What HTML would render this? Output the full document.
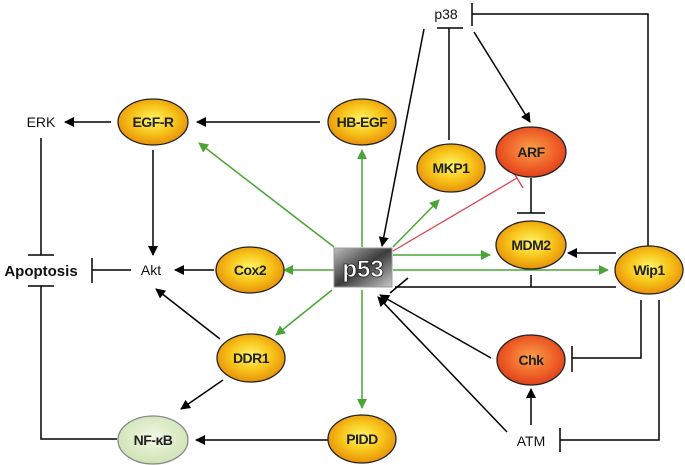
<!DOCTYPE html>
<html><head><meta charset="utf-8"><style>html,body{margin:0;padding:0;background:#fff}svg{display:block}</style></head><body>
<svg width="685" height="465" viewBox="0 0 685 465" xmlns="http://www.w3.org/2000/svg" font-family="Liberation Sans, sans-serif">
<defs>
<radialGradient id="yo" cx="50%" cy="45%" r="55%"><stop offset="0" stop-color="#fff66a"/><stop offset="0.55" stop-color="#f7c51a"/><stop offset="1" stop-color="#e8900a"/></radialGradient>
<radialGradient id="ro" cx="50%" cy="45%" r="55%"><stop offset="0" stop-color="#f9a24a"/><stop offset="0.6" stop-color="#f0652a"/><stop offset="1" stop-color="#e0401c"/></radialGradient>
<radialGradient id="gr" cx="50%" cy="45%" r="55%"><stop offset="0" stop-color="#f2f8e6"/><stop offset="1" stop-color="#cfe3b4"/></radialGradient>
<linearGradient id="bx" x1="0" y1="0" x2="1" y2="1"><stop offset="0" stop-color="#bdbdbd"/><stop offset="0.5" stop-color="#3c3c3c"/><stop offset="1" stop-color="#c8c8c8"/></linearGradient>
<marker id="ak" markerWidth="10" markerHeight="10" refX="9" refY="5" orient="auto" markerUnits="userSpaceOnUse"><path d="M0,0 L10,5 L0,10 z" fill="#000"/></marker>
<marker id="ag" markerWidth="10" markerHeight="10" refX="9" refY="5" orient="auto" markerUnits="userSpaceOnUse"><path d="M0,0 L10,5 L0,10 z" fill="#4aa534"/></marker>
</defs>
<g stroke="#000" stroke-width="1.5" fill="none">
<line x1="111" y1="122" x2="65" y2="122" marker-end="url(#ak)"/>
<line x1="320" y1="122" x2="197" y2="122" marker-end="url(#ak)"/>
<line x1="41" y1="138" x2="41" y2="255"/><line x1="28" y1="255" x2="54" y2="255"/>
<line x1="28" y1="286" x2="54" y2="286"/><polyline points="41,286 41,439 117,439"/>
<line x1="131" y1="270" x2="92" y2="270"/><line x1="92" y1="258" x2="92" y2="283"/>
<line x1="153" y1="150" x2="153" y2="255" marker-end="url(#ak)"/>
<line x1="214" y1="270" x2="175" y2="270" marker-end="url(#ak)"/>
<line x1="220" y1="339" x2="156" y2="289" marker-end="url(#ak)"/>
<line x1="223" y1="380" x2="181" y2="409" marker-end="url(#ak)"/>
<line x1="329" y1="440" x2="196" y2="440" marker-end="url(#ak)"/>
<line x1="531" y1="178" x2="531" y2="213"/><line x1="517" y1="213" x2="545" y2="213"/>
<line x1="616" y1="253" x2="568" y2="253" marker-end="url(#ak)"/>
<polyline points="648,246 648,14 472,14"/><line x1="472" y1="3" x2="472" y2="26"/>
<line x1="616" y1="287" x2="395" y2="287"/><line x1="531" y1="275" x2="531" y2="287"/>
<line x1="408" y1="278" x2="390" y2="293"/>
<line x1="424" y1="29" x2="382" y2="246" marker-end="url(#ak)"/>
<line x1="437" y1="28" x2="463" y2="28"/><line x1="449" y1="28" x2="449" y2="140"/>
<line x1="474" y1="32" x2="530" y2="122" marker-end="url(#ak)"/>
<line x1="491" y1="358" x2="380" y2="295" marker-end="url(#ak)"/>
<line x1="507" y1="432" x2="378" y2="297" marker-end="url(#ak)"/>
<polyline points="641,300 641,358 572,358"/><line x1="572" y1="346" x2="572" y2="372"/>
<polyline points="659,300 659,440 560,440"/><line x1="560" y1="428" x2="560" y2="452"/>
<line x1="531" y1="425" x2="531" y2="389" marker-end="url(#ak)"/>
</g>
<g stroke="#4aa534" stroke-width="1.5">
<line x1="334" y1="247" x2="199" y2="143" marker-end="url(#ag)"/>
<line x1="362" y1="247" x2="362" y2="150" marker-end="url(#ag)"/>
<line x1="393" y1="247" x2="439" y2="200" marker-end="url(#ag)"/>
<line x1="393" y1="255" x2="490" y2="255" marker-end="url(#ag)"/>
<line x1="334" y1="270" x2="284" y2="270" marker-end="url(#ag)"/>
<line x1="393" y1="270" x2="608" y2="270" marker-end="url(#ag)"/>
<line x1="332" y1="290" x2="276" y2="335" marker-end="url(#ag)"/>
<line x1="362" y1="290" x2="362" y2="408" marker-end="url(#ag)"/>
</g>
<g stroke="#e0404a" stroke-width="1.3"><line x1="393" y1="251" x2="517" y2="178"/><line x1="511" y1="168" x2="523" y2="188"/></g>
<g stroke="#222" stroke-width="1.3">
<ellipse cx="153" cy="122" rx="35" ry="23" fill="url(#yo)"/>
<ellipse cx="362" cy="122" rx="34" ry="23" fill="url(#yo)"/>
<ellipse cx="451" cy="168" rx="34" ry="24" fill="url(#yo)"/>
<ellipse cx="531" cy="152" rx="35" ry="25" fill="url(#ro)"/>
<ellipse cx="531" cy="245" rx="35" ry="24" fill="url(#yo)"/>
<ellipse cx="649" cy="270" rx="34" ry="24" fill="url(#yo)"/>
<ellipse cx="250" cy="270" rx="34" ry="23" fill="url(#yo)"/>
<ellipse cx="251" cy="358" rx="34" ry="24" fill="url(#yo)"/>
<ellipse cx="531" cy="360" rx="34" ry="25" fill="url(#ro)"/>
<ellipse cx="362" cy="439" rx="34" ry="24" fill="url(#yo)"/>
<ellipse cx="153" cy="440" rx="35" ry="24" fill="url(#gr)" stroke="#888"/>
</g>
<rect x="334" y="248" width="58" height="39" fill="url(#bx)" stroke="#999"/>
<text x="363" y="277" text-anchor="middle" font-size="24" font-weight="bold" fill="#fff" stroke="#222" stroke-width="0.8">p53</text>
<g font-size="14" font-weight="bold" fill="#222" text-anchor="middle" letter-spacing="-0.5">
<text x="153" y="127">EGF-R</text><text x="362" y="127">HB-EGF</text><text x="451" y="173">MKP1</text>
<text x="531" y="157">ARF</text><text x="531" y="250">MDM2</text><text x="649" y="275">Wip1</text>
<text x="250" y="275">Cox2</text><text x="251" y="363">DDR1</text><text x="531" y="365">Chk</text>
<text x="362" y="444">PIDD</text><text x="153" y="445">NF-κB</text>
</g>
<g font-size="14" fill="#111" text-anchor="middle">
<text x="41" y="127">ERK</text><text x="151" y="275">Akt</text><text x="446" y="19">p38</text><text x="531" y="446">ATM</text>
<text x="41" y="276" font-weight="bold" font-size="15">Apoptosis</text>
</g>
</svg>
</body></html>
